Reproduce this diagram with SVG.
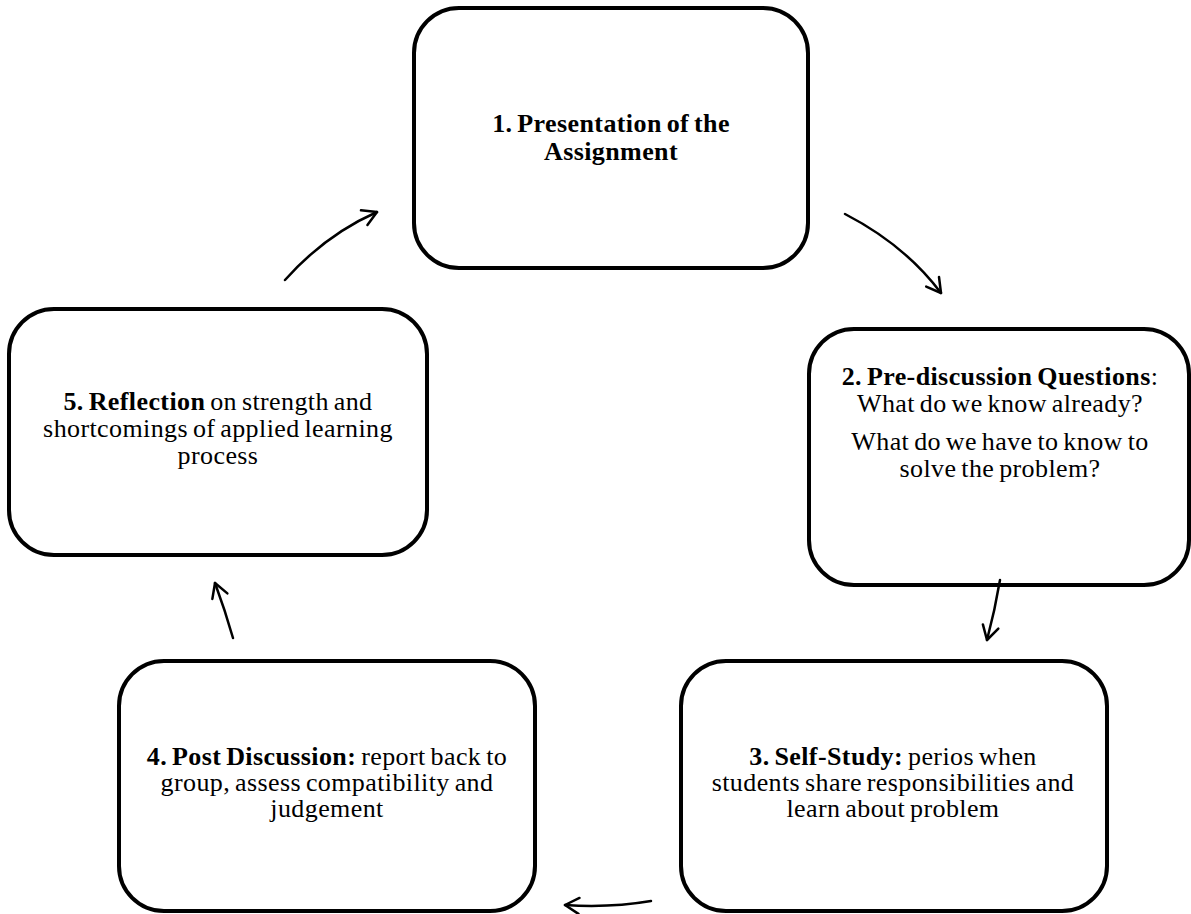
<svg xmlns="http://www.w3.org/2000/svg" width="1191" height="914" viewBox="0 0 1191 914">
<style>
.box{fill:#fff;stroke:#000;stroke-width:4}
.t{font-family:"Liberation Serif","Times New Roman",serif;font-size:26px;fill:#000;text-anchor:middle;word-spacing:-2px;letter-spacing:0.4px}
.b{font-weight:bold}
.c{fill:none;stroke:#000;stroke-width:2.5;stroke-linecap:round}
</style>
<defs>
<marker id="ah" viewBox="0 0 20 20" refX="18" refY="10" markerWidth="20" markerHeight="20" markerUnits="userSpaceOnUse" orient="auto">
<path d="M4 2 L18 10 L4 18" fill="none" stroke="#000" stroke-width="2.5" stroke-linecap="round" stroke-linejoin="round"/>
</marker>
</defs>
<rect width="1191" height="914" fill="#fff"/>
<g id="node1">
<rect class="box" x="414" y="8" width="394" height="260" rx="45"/>
<text class="t b" x="611" y="132">1. Presentation of the</text>
<text class="t b" x="611" y="160">Assignment</text>
</g>
<g id="node2">
<rect class="box" x="809" y="329" width="380" height="256" rx="45"/>
<text class="t" x="1000" y="385"><tspan class="b">2. Pre-discussion Questions</tspan>:</text>
<text class="t" x="1000" y="412">What do we know already?</text>
<text class="t" x="1000" y="450">What do we have to know to</text>
<text class="t" x="1000" y="477">solve the problem?</text>
</g>
<g id="node3">
<rect class="box" x="681" y="661" width="426" height="250" rx="45"/>
<text class="t" x="893" y="765"><tspan class="b">3. Self-Study:</tspan> perios when</text>
<text class="t" x="893" y="791">students share responsibilities and</text>
<text class="t" x="893" y="817">learn about problem</text>
</g>
<g id="node4">
<rect class="box" x="119" y="661" width="416" height="250" rx="45"/>
<text class="t" x="327" y="765"><tspan class="b">4. Post Discussion:</tspan> report back to</text>
<text class="t" x="327" y="791">group, assess compatibility and</text>
<text class="t" x="327" y="817">judgement</text>
</g>
<g id="node5">
<rect class="box" x="9" y="309" width="418" height="246" rx="45"/>
<text class="t" x="218" y="410"><tspan class="b">5. Reflection</tspan> on strength and</text>
<text class="t" x="218" y="437">shortcomings of applied learning</text>
<text class="t" x="218" y="464">process</text>
</g>
<g id="connectors">
<path class="c" d="M285 280 Q325 235 377 212" marker-end="url(#ah)"/>
<path class="c" d="M845 214 Q905 245 941 293" marker-end="url(#ah)"/>
<path class="c" d="M1000 580 Q995 610 987 640" marker-end="url(#ah)"/>
<path class="c" d="M651 901 Q610 908 565 905" marker-end="url(#ah)"/>
<path class="c" d="M233 638 Q225 610 215 583" marker-end="url(#ah)"/>
</g>
</svg>
